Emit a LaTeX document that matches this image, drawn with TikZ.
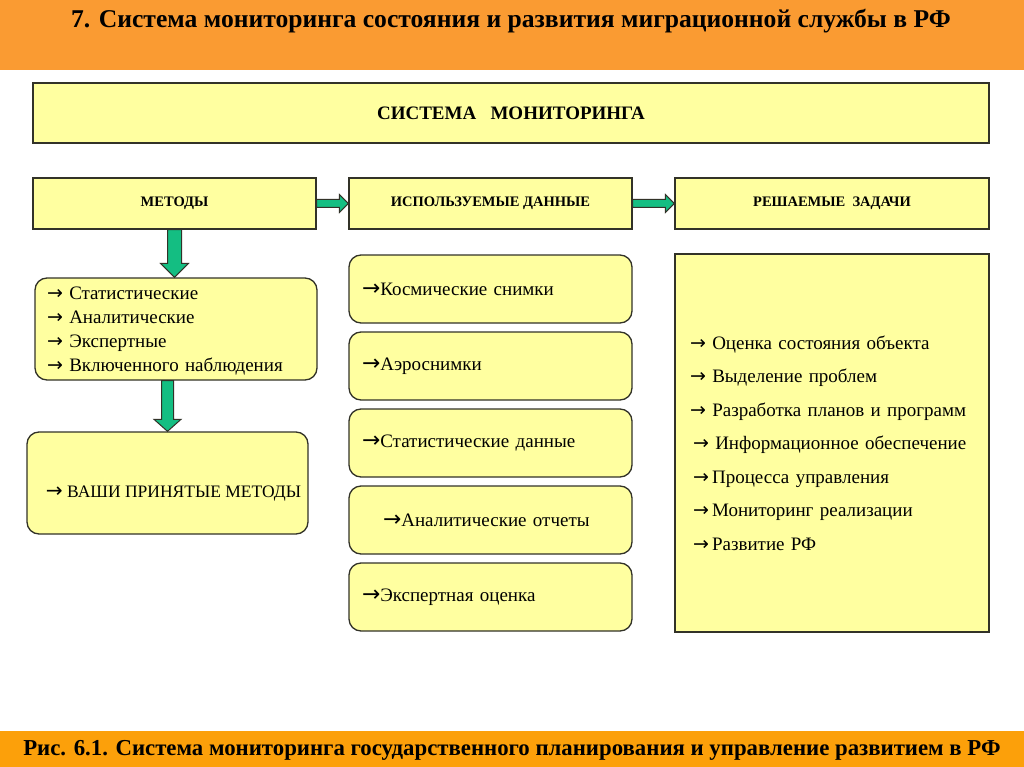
\documentclass[tikz,border=0pt]{standalone}
\usepackage{fontspec}
\setmainfont{Liberation Serif}
\newfontfamily\headfont{Liberation Serif}
\newfontfamily\arrowfont{DejaVu Sans}
\newfontfamily\longarrowfont[Scale=1.15]{DejaVu Sans}
\newcommand{\toarrow}{{\arrowfont →}}
\newcommand{\longto}{{\longarrowfont →}}
\usetikzlibrary{calc,positioning}
\definecolor{band}{RGB}{250,155,50}
\definecolor{bandlow}{RGB}{252,160,10}
\definecolor{pale}{RGB}{255,255,160}
\definecolor{edge}{RGB}{50,50,40}
\definecolor{jade}{RGB}{20,190,130}
\tikzset{
  head/.style={draw=edge,fill=pale,line width=1.3pt,minimum height=51pt,
    font=\headfont\bfseries\fontsize{14.5}{14.5}\selectfont},
  card/.style={draw=edge,fill=pale,line width=1.3pt,rounded corners=12pt,
    align=left,inner xsep=#1,font=\fontsize{19}{24}\selectfont},
  card/.default=13pt,
  fat/.style={fill=jade,draw=edge,line width=1pt,line join=miter},
  banner/.style={font=\headfont\bfseries\fontsize{#1}{#1}\selectfont},
}

\begin{document}
\begin{tikzpicture}[x=1pt,y=-1pt]
  \useasboundingbox (0,0) rectangle (1024,767);
  % top and bottom bands
  \fill[band] (0,0) rectangle (1024,70);
  \fill[bandlow] (0,731) rectangle (1024,767);
  \node[banner=25.6] (title) at (511,21) {7. Система мониторинга состояния и развития миграционной службы в РФ};
  \node[banner=22.8] (caption) at (512,750) {Рис. 6.1. Система мониторинга государственного планирования и управление развитием в РФ};

  % headers
  \node[head,minimum width=956pt,minimum height=60pt,font=\headfont\bfseries\fontsize{19}{19}\selectfont] (sys) at (511,113) {СИСТЕМА\ \ \ МОНИТОРИНГА};
  \node[head,minimum width=283pt] (met) at (174.5,203.5) {МЕТОДЫ};
  \node[head,minimum width=283pt] (dat) at (490.5,203.5) {ИСПОЛЬЗУЕМЫЕ ДАННЫЕ};
  \node[head,minimum width=314pt] (task) at (832,203.5) {РЕШАЕМЫЕ\ \ ЗАДАЧИ};

  % methods column
  \node[card=12pt,text width=258pt,minimum height=102pt,text height=17pt] (kinds) at (176,329)
    {\toarrow\ Статистические\\\toarrow\ Аналитические\\\toarrow\ Экспертные\\\toarrow\ Включенного наблюдения};
  \node[card=5pt,minimum width=281pt,minimum height=102pt,text height=33pt,text depth=5pt,
    font=\fontsize{17.5}{20}\selectfont] (ours) at (167.5,483)
    {\hspace{12pt}\longto\ ВАШИ ПРИНЯТЫЕ МЕТОДЫ};

  % data column
  \foreach \t [count=\i] in {Космические снимки,Аэроснимки,Статистические данные,
      \hspace{21pt}\longto Аналитические отчеты,Экспертная оценка}
    \node[card,text width=257pt,minimum height=68pt] (d\i) at (490.5,{212+77*\i})
      {\ifnum\i=4 \t\else\longto\t\fi};

  % tasks column
  \node[draw=edge,fill=pale,line width=1.3pt,align=left,text width=284pt,inner xsep=15pt,
    minimum height=378pt,font=\fontsize{19}{33.5}\selectfont] (goals) at (832,443)
    {\toarrow\ Оценка состояния объекта\\\toarrow\ Выделение проблем\\\toarrow\ Разработка планов и программ\\
     \hspace{3pt}\toarrow\ Информационное обеспечение\\\hspace{3pt}\toarrow\,Процесса управления\\
     \hspace{3pt}\toarrow\,Мониторинг реализации\\\hspace{3pt}\toarrow\,Развитие РФ};

  % block arrows
  \foreach \a/\b in {met/dat,dat/task}
    \draw[fat] ($(\a.east)+(0,-4)$) -- ($(\b.west)+(-9,-4)$) -- ($(\b.west)+(-9,-9)$) -- (\b.west)
      -- ($(\b.west)+(-9,9)$) -- ($(\b.west)+(-9,4)$) -- ($(\a.east)+(0,4)$) -- cycle;
  \coordinate (tip1) at (met.south |- kinds.north);
  \coordinate (foot2) at (ours.north |- kinds.south);
  \foreach \a/\b/\s/\h/\l in {met.south/tip1/7/14/14,foot2/ours.north/6/13.5/12}
    \draw[fat] ($(\a)+(-\s,0)$) -- ($(\b)+(-\s,-\l)$) -- ($(\b)+(-\h,-\l)$) -- (\b)
      -- ($(\b)+(\h,-\l)$) -- ($(\b)+(\s,-\l)$) -- ($(\a)+(\s,0)$) -- cycle;
\end{tikzpicture}
\end{document}
